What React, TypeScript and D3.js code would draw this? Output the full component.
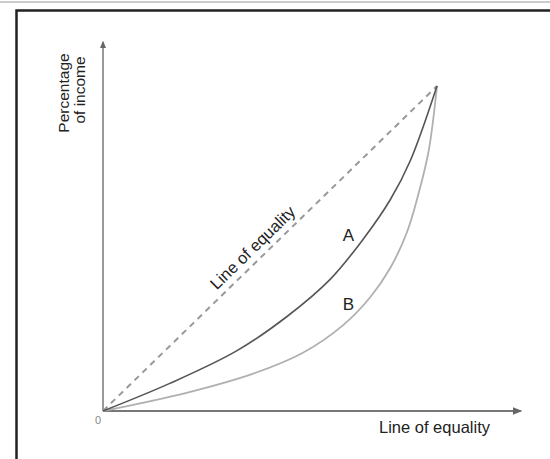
import React from 'react';
import * as d3 from 'd3';

// cumulative % of population (x) vs cumulative % of income (y)
const curveA = [
  [0, 0], [20, 8.5], [40, 18.5], [55, 29], [68, 40.5], [78, 53], [86, 65], [92, 77], [100, 100],
];
const curveB = [
  [0, 0], [25, 5.6], [45, 11.5], [60, 18], [72, 26.5], [80, 35], [86, 44], [91, 55], [94.5, 67], [97.5, 80], [100, 100],
];
const equality = [[0, 0], [100, 100]];

const curveLabels = [
  { name: 'A', x: 73.5, y: 52.3 },
  { name: 'B', x: 73.5, y: 31 },
];

const width = 550;
const height = 459;

const App = () => {
  const x = d3.scaleLinear().domain([0, 100]).range([103, 437]);
  const y = d3.scaleLinear().domain([0, 100]).range([411, 86]);

  const line = d3.line<number[]>()
    .x(d => x(d[0]))
    .y(d => y(d[1]))
    .curve(d3.curveCatmullRom.alpha(0.5));

  const xEnd = x(125);
  const yEnd = y(113.5);
  const angle = -Math.atan2(y(0) - y(100), x(100) - x(0)) * 180 / Math.PI;

  return (
    <svg width={width} height={height} style={{ position: 'absolute', left: 0, top: 0, background: '#fff' }}
      fontFamily="Arial, 'Liberation Sans', sans-serif">
      <defs>
        <marker id="arrow" viewBox="0 0 10 10" refX="8" refY="5" markerWidth="5" markerHeight="5" orient="auto">
          <path d="M0,1 L10,5 L0,9 z" fill="#666" />
        </marker>
      </defs>

      {/* frame */}
      <line x1={0} x2={width} y1={2} y2={2} stroke="#999" strokeWidth={1} />
      <path d={`M16.5,${height} V10.5 H${width}`} fill="none" stroke="#222" strokeWidth={2.5} />

      {/* axes */}
      <line x1={x(0)} x2={xEnd} y1={y(0)} y2={y(0)} stroke="#777" strokeWidth={2} markerEnd="url(#arrow)" />
      <line x1={x(0)} x2={x(0)} y1={y(0)} y2={yEnd} stroke="#777" strokeWidth={1.5} markerEnd="url(#arrow)" />
      <text x={x(0) - 5} y={y(0) + 13} fontSize={11} fill="#888" textAnchor="middle">0</text>

      {/* line of equality */}
      <path d={line(equality) || ''} fill="none" stroke="#999" strokeWidth={2} strokeDasharray="6 5" />
      <text transform={`translate(${x(46)},${y(49)}) rotate(${angle})`} fontSize={16.5} fill="#222" textAnchor="middle">
        Line of equality
      </text>

      {/* Lorenz curves */}
      <path d={line(curveB) || ''} fill="none" stroke="#b0b0b0" strokeWidth={1.8} />
      <path d={line(curveA) || ''} fill="none" stroke="#555" strokeWidth={1.6} />
      {curveLabels.map(l => (
        <text key={l.name} x={x(l.x)} y={y(l.y)} fontSize={17} fill="#222" textAnchor="middle">{l.name}</text>
      ))}

      {/* axis titles */}
      <text transform="translate(69,93) rotate(-90)" fontSize={15.5} fill="#222" textAnchor="middle">Percentage</text>
      <text transform="translate(85,90) rotate(-90)" fontSize={15.5} fill="#222" textAnchor="middle">of income</text>
      <text x={490} y={433} fontSize={16.5} fill="#222" textAnchor="end">Line of equality</text>
    </svg>
  );
};

export default App;
